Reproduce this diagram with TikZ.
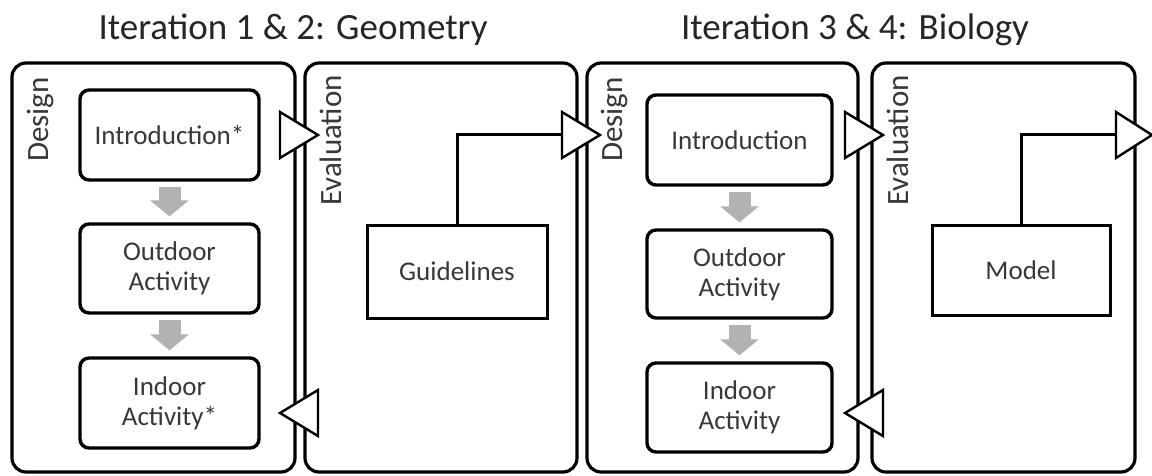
\documentclass[tikz,border=0pt]{standalone}
\usepackage{fontspec}
\setmainfont{Carlito}
\usetikzlibrary{arrows.meta}
\begin{document}
\begin{tikzpicture}[x=1pt,y=-1pt,
  panel/.style={draw=black,line width=3.2pt,rounded corners=14pt,minimum height=409pt,inner sep=0pt},
  stepbox/.style={draw=black,line width=3.4pt,rounded corners=9pt,inner sep=0pt,align=center,
    font=\fontsize{27}{30}\selectfont,text=black!78},
  outbox/.style={draw=black,line width=3pt,inner sep=0pt,align=center,
    font=\fontsize{27}{30}\selectfont,text=black!78},
  lab/.style={font=\fontsize{31}{34}\selectfont,text=black!78,inner sep=0pt,rotate=90,anchor=east},
  title/.style={font=\fontsize{37}{40}\selectfont,text=black!85,inner sep=0pt},
  tri/.style={draw=black,fill=white,line width=2.4pt,line join=miter},
  conn/.style={draw=black,line width=3pt},
  grayarrow/.style={draw=black!30,line width=22pt,-{Triangle[length=16pt,width=38pt]}}
]
\useasboundingbox[fill=white] (0,0) rectangle (1152,476);

% titles
\node[title] (t1) at (293,30) {Iteration 1 \& 2: Geometry};
\node[title] (t2) at (855,30) {Iteration 3 \& 4: Biology};

% panels
\node[panel,minimum width=283pt] (p1) at (153.5,267.5) {};
\node[panel,minimum width=272pt] (p2) at (441,267.5) {};
\node[panel,minimum width=271pt] (p3) at (722.5,267.5) {};
\node[panel,minimum width=263pt] (p4) at (1003.5,267.5) {};

% panel labels
\node[lab] (l1) at (41,77) {Design};
\node[lab] (l2) at (331,75) {Evaluation};
\node[lab] (l3) at (614,77) {Design};
\node[lab] (l4) at (898,75) {Evaluation};

% design steps, iteration 1&2
\node[stepbox,minimum width=179pt,minimum height=90pt] (i1) at (169.5,135) {Introduction*};
\node[stepbox,minimum width=179pt,minimum height=89pt] (o1) at (169.5,268.5) {Outdoor\\Activity};
\node[stepbox,minimum width=179pt,minimum height=90pt] (n1) at (169.5,403) {Indoor\\Activity*};

% design steps, iteration 3&4
\node[stepbox,minimum width=185pt,minimum height=90pt] (i3) at (739.5,140) {Introduction};
\node[stepbox,minimum width=185pt,minimum height=88pt] (o3) at (739.5,274) {Outdoor\\Activity};
\node[stepbox,minimum width=185pt,minimum height=89pt] (n3) at (739.5,407.5) {Indoor\\Activity};

% outcomes
\node[outbox,minimum width=180pt,minimum height=93pt] (g) at (457,271.5) {Guidelines};
\node[outbox,minimum width=178pt,minimum height=90pt] (m) at (1021,270) {Model};

% gray flow arrows
\draw[grayarrow] ([yshift=-5pt]i1.south) -- ([yshift=6pt]o1.north);
\draw[grayarrow] ([yshift=-5pt]o1.south) -- ([yshift=6pt]n1.north);
\draw[grayarrow] ([yshift=-5pt]i3.south) -- ([yshift=6pt]o3.north);
\draw[grayarrow] ([yshift=-5pt]o3.south) -- ([yshift=6pt]n3.north);

% arrow tips on the borders
\coordinate (a1) at (318,135);
\coordinate (a2) at (600,135);
\coordinate (a3) at (883,135);
\coordinate (a4) at (1152,135);
\coordinate (b1) at (280,413);
\coordinate (b3) at (845,413);

\draw[conn] (g.north) |- ([xshift=-38pt]a2);
\draw[conn] (m.north) |- ([xshift=-36pt]a4);

\draw[tri] (a1) -- ++(-38,-23) -- ++(0,46) -- cycle;
\draw[tri] (a2) -- ++(-38,-23) -- ++(0,46) -- cycle;
\draw[tri] (a3) -- ++(-38,-23) -- ++(0,46) -- cycle;
\draw[tri] (a4) -- ++(-36,-23) -- ++(0,46) -- cycle;
\draw[tri] (b1) -- ++(38,-23) -- ++(0,46) -- cycle;
\draw[tri] (b3) -- ++(38,-23) -- ++(0,46) -- cycle;
\end{tikzpicture}
\end{document}
